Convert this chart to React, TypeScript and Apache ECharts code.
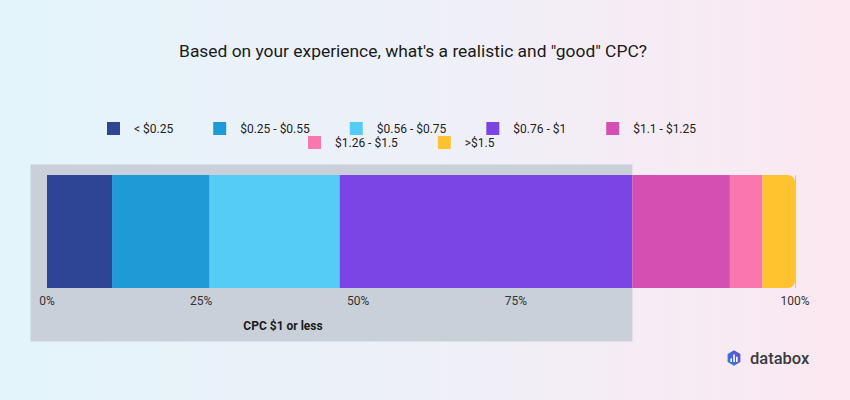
import React, { useEffect, useRef } from 'react';
import * as echarts from 'echarts';

const titleText = 'Based on your experience, what\'s a realistic and "good" CPC?';
const categories = ['< $0.25', '$0.25 - $0.55', '$0.56 - $0.75', '$0.76 - $1', '$1.1 - $1.25', '$1.26 - $1.5', '>$1.5'];
const shares = [8.7, 13.04, 17.39, 39.13, 13.04, 4.35, 4.35];
const colors = ['#2E4596', '#1F9AD6', '#55CCF5', '#7B45E6', '#D34FB1', '#F977AE', '#FEC32E'];
const tickLabels = ['0%', '25%', '50%', '75%', '100%'];
const tickLabelPositions = [0, 20.6, 41.6, 62.7, 100];
const highlightLabel = 'CPC $1 or less';
const highlightCount = 4;

const FONT = 'Roboto, "Noto Sans", sans-serif';

export default function App() {
  const ref = useRef<HTMLDivElement>(null);
  useEffect(() => {
    if (!ref.current) return;
    const chart = echarts.init(ref.current, undefined, { renderer: 'svg' });
    const series = categories.map((name, i) => ({
      name,
      type: 'bar',
      stack: 'total',
      data: [shares[i]],
      barCategoryGap: '0%',
      z: 2,
      itemStyle: {
        color: colors[i],
        borderRadius: i === categories.length - 1 ? [0, 7, 7, 0] : 0,
      },
    }));
    chart.setOption({
      animation: false,
      textStyle: { fontFamily: FONT },
      grid: { left: 47, right: 55, top: 175, bottom: 112, containLabel: false },
      legend: [
        {
          data: categories.slice(0, 5),
          left: 107, top: 122, padding: 0,
          itemWidth: 13, itemHeight: 13, itemGap: 40, icon: 'rect',
          textStyle: { fontSize: 12, color: '#222', fontFamily: FONT, padding: [0, 0, 0, 9] },
        },
        {
          data: categories.slice(5),
          left: 308, top: 136, padding: 0,
          itemWidth: 13, itemHeight: 13, itemGap: 40, icon: 'rect',
          textStyle: { fontSize: 12, color: '#222', fontFamily: FONT, padding: [0, 0, 0, 9] },
        },
      ],
      xAxis: {
        type: 'value', min: 0, max: 100, interval: 25,
        axisLine: { show: false }, axisTick: { show: false },
        splitLine: { show: true, lineStyle: { color: '#c4c8d0', width: 1 } },
        axisLabel: {
          customValues: tickLabelPositions,
          formatter: (v: number) => {
            const idx = tickLabelPositions.findIndex((p) => Math.abs(p - v) < 0.01);
            return idx >= 0 ? tickLabels[idx] : '';
          },
          color: '#333', fontSize: 12, margin: 7, fontFamily: FONT,
        },
      },
      yAxis: { type: 'category', data: ['CPC'], show: false },
      series,
    });

    const x0 = chart.convertToPixel({ xAxisIndex: 0 }, 0) as number;
    const cum = shares.slice(0, highlightCount).reduce((a, b) => a + b, 0);
    const x1 = chart.convertToPixel({ xAxisIndex: 0 }, cum) as number;
    const rectLeft = x0 - 16.5;

    chart.setOption({
      graphic: [
        {
          type: 'rect', z: 0, silent: true,
          shape: { x: rectLeft, y: 164.5, width: x1 - rectLeft, height: 177 },
          style: { fill: '#C9D0D9' },
        },
        {
          type: 'text', z: 5, x: 283, y: 326,
          style: { text: highlightLabel, font: `bold 12px ${FONT}`, fill: '#1a1a1a', align: 'center', verticalAlign: 'middle' },
        },
        {
          type: 'text', z: 5, x: 413, y: 51,
          style: { text: titleText, font: `17.4px ${FONT}`, fill: '#1a1a1a', align: 'center', verticalAlign: 'middle' },
        },
        {
          type: 'polygon', z: 5,
          shape: { points: [[734, 350.2], [740.4, 354], [740.4, 362], [734, 365.8], [727.6, 362], [727.6, 354]] },
          style: {
            fill: new echarts.graphic.LinearGradient(0, 1, 1, 0, [
              { offset: 0, color: '#2F7FD8' },
              { offset: 1, color: '#6A4BD6' },
            ]),
          },
        },
        { type: 'rect', z: 6, shape: { x: 730.4, y: 358.5, width: 1.6, height: 3.5 }, style: { fill: '#fff' } },
        { type: 'rect', z: 6, shape: { x: 733.2, y: 354.5, width: 1.6, height: 7.5 }, style: { fill: '#fff' } },
        { type: 'rect', z: 6, shape: { x: 736, y: 356.8, width: 1.6, height: 5.2 }, style: { fill: '#fff' } },
        {
          type: 'text', z: 5, x: 750, y: 358,
          style: { text: 'databox', font: `500 16.5px ${FONT}`, fill: '#3a3a3f', align: 'left', verticalAlign: 'middle' },
        },
      ],
    });

    return () => chart.dispose();
  }, []);

  return (
    <div
      ref={ref}
      style={{
        position: 'fixed', left: 0, top: 0, width: 850, height: 400,
        background: 'linear-gradient(90deg, #E3F4FB 0%, #EEF0F8 50%, #FCE8F1 100%)',
      }}
    />
  );
}
